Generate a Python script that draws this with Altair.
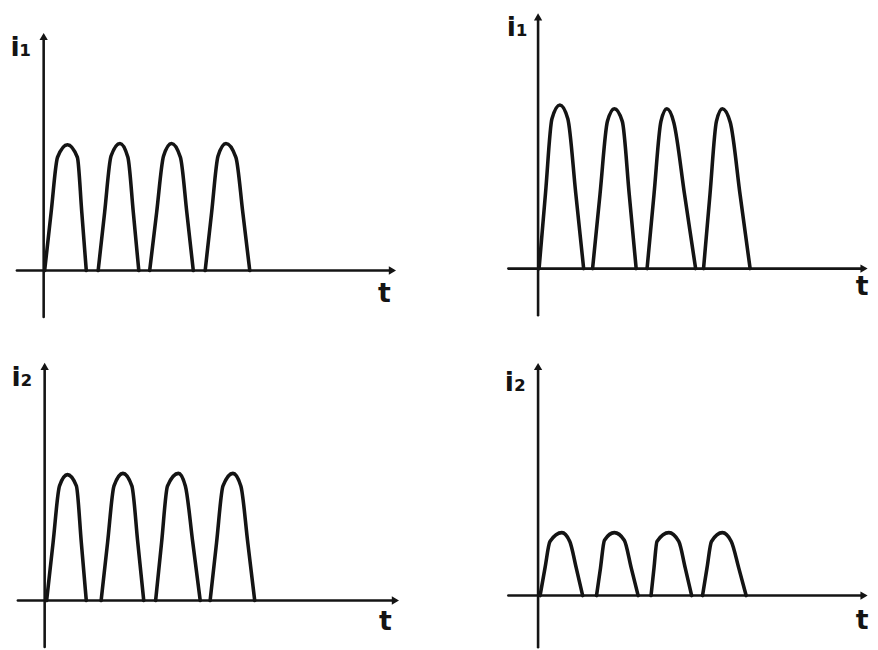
import altair as alt
import pandas as pd

# ---------------- data ----------------
# time axis in arbitrary units, current in arbitrary units (i = 1.0 is the
# peak of the upper-left trace). Each pulse: start, mid-rise, left shoulder,
# peak, right shoulder, mid-fall, end.
tl_t = [0.1, 0.75, 1.4, 2.4, 3.4, 3.85, 4.3,
        5.5, 6.15, 6.8, 7.7, 8.5, 9.05, 9.6,
        10.7, 11.4, 12.1, 12.9, 13.8, 14.45, 15.1,
        16.3, 16.95, 17.6, 18.4, 19.4, 20.1, 20.8]
tl_i = [0, 0.46, 0.90, 1.00, 0.90, 0.46, 0,
        0, 0.46, 0.91, 1.01, 0.90, 0.46, 0,
        0, 0.46, 0.91, 1.01, 0.90, 0.46, 0,
        0, 0.46, 0.91, 1.01, 0.90, 0.46, 0]

tr_t = [0.1, 0.75, 1.4, 2.2, 3.0, 3.8, 4.6,
        5.5, 6.25, 7.0, 7.7, 8.5, 9.2, 9.9,
        11.0, 11.7, 12.4, 13.0, 13.7, 14.8, 15.9,
        16.7, 17.35, 18.0, 18.6, 19.4, 20.4, 21.4]
tr_i = [0, 0.60, 1.19, 1.30, 1.19, 0.60, 0,
        0, 0.59, 1.17, 1.27, 1.17, 0.59, 0,
        0, 0.59, 1.17, 1.27, 1.16, 0.58, 0,
        0, 0.59, 1.17, 1.27, 1.16, 0.58, 0]

bl_t = [0.2, 0.85, 1.5, 2.3, 3.2, 3.7, 4.2,
        5.7, 6.35, 7.0, 7.9, 8.8, 9.4, 10.0,
        11.2, 11.8, 12.4, 13.5, 14.2, 14.95, 15.7,
        16.7, 17.35, 18.0, 19.0, 19.8, 20.5, 21.2]
bl_i = [0, 0.46, 0.91, 1.00, 0.91, 0.46, 0,
        0, 0.46, 0.91, 1.01, 0.91, 0.46, 0,
        0, 0.46, 0.91, 1.01, 0.91, 0.46, 0,
        0, 0.46, 0.91, 1.01, 0.91, 0.46, 0]

br_t = [0.2, 0.7, 1.2, 2.4, 3.2, 3.85, 4.5,
        5.9, 6.3, 6.7, 7.7, 8.7, 9.4, 10.1,
        11.4, 11.7, 12.0, 13.2, 14.2, 14.85, 15.5,
        16.6, 17.05, 17.5, 18.6, 19.5, 20.25, 21.0]
br_i = [0, 0.22, 0.43, 0.50, 0.43, 0.22, 0,
        0, 0.22, 0.44, 0.50, 0.44, 0.22, 0,
        0, 0.22, 0.43, 0.50, 0.43, 0.22, 0,
        0, 0.22, 0.43, 0.50, 0.43, 0.22, 0]

pulse_id = [1] * 7 + [2] * 7 + [3] * 7 + [4] * 7

y_labels = ["i₁", "i₁", "i₂", "i₂"]
x_label = "t"

# ---------------- panel layout (scale windows) ----------------
PW, PH = 435, 321
INK = "#141414"

panels = [
    dict(t=tl_t, i=tl_i, xd=[-3.6, 39.9], yd=[-0.465, 2.063],
         ya=[-0.37, 1.86], xa=[-2.7, 35.2], lab=(-2.3, 1.77), tp=(34.4, -0.19)),
    dict(t=tr_t, i=tr_i, xd=[-10.0, 33.5], yd=[-0.480, 2.047],
         ya=[-0.37, 2.00], xa=[-3.0, 32.9], lab=(-2.1, 1.91), tp=(32.7, -0.15)),
    dict(t=bl_t, i=bl_i, xd=[-3.7, 39.8], yd=[-0.370, 2.157],
         ya=[-0.37, 1.86], xa=[-2.7, 35.4], lab=(-2.3, 1.77), tp=(34.4, -0.17)),
    dict(t=br_t, i=br_i, xd=[-10.0, 33.5], yd=[-0.409, 2.118],
         ya=[-0.41, 1.82], xa=[-3.0, 32.9], lab=(-2.3, 1.69), tp=(32.7, -0.20)),
]


def make_panel(p, ylab):
    xs = alt.Scale(domain=p["xd"], nice=False, zero=False)
    ys = alt.Scale(domain=p["yd"], nice=False, zero=False)

    trace = pd.DataFrame({"t": p["t"], "i": p["i"], "pulse": pulse_id})
    axes = pd.DataFrame({
        "x": [0, p["xa"][0]], "y": [p["ya"][0], 0],
        "x2": [0, p["xa"][1]], "y2": [p["ya"][1], 0],
    })
    arrows = pd.DataFrame({
        "x": [0, p["xa"][1]], "y": [p["ya"][1], 0],
        "shape": ["triangle-up", "triangle-right"],
    })
    labels = pd.DataFrame({
        "x": [p["lab"][0], p["tp"][0]], "y": [p["lab"][1], p["tp"][1]],
        "txt": [ylab, x_label],
    })

    X = lambda f: alt.X(f, type="quantitative", scale=xs, axis=None)
    Y = lambda f: alt.Y(f, type="quantitative", scale=ys, axis=None)

    axis_rules = alt.Chart(axes).mark_rule(
        color=INK, strokeWidth=2.6, strokeCap="round"
    ).encode(x=X("x"), y=Y("y"), x2="x2", y2="y2")

    heads = alt.Chart(arrows).mark_point(
        filled=True, color=INK, size=70, opacity=1
    ).encode(x=X("x"), y=Y("y"),
             shape=alt.Shape("shape:N", scale=None, legend=None))

    pulses = alt.Chart(trace).mark_line(
        color=INK, strokeWidth=3.6, interpolate="monotone",
        strokeCap="round", strokeJoin="round"
    ).encode(x=X("t"), y=Y("i"), detail="pulse:N")

    text = alt.Chart(labels).mark_text(
        font="DejaVu Sans", fontSize=27, fontWeight="bold", color=INK,
        align="center", baseline="middle"
    ).encode(x=X("x"), y=Y("y"), text="txt:N")

    return alt.layer(axis_rules, pulses, heads, text).properties(
        width=PW, height=PH
    )


charts = [make_panel(p, lab) for p, lab in zip(panels, y_labels)]

chart = alt.concat(
    *charts, columns=2, spacing=0, bounds="flush"
).configure_view(stroke=None).properties(padding=0, background="white")

chart.save("out.html", embed_options={"renderer": "svg", "actions": False})
